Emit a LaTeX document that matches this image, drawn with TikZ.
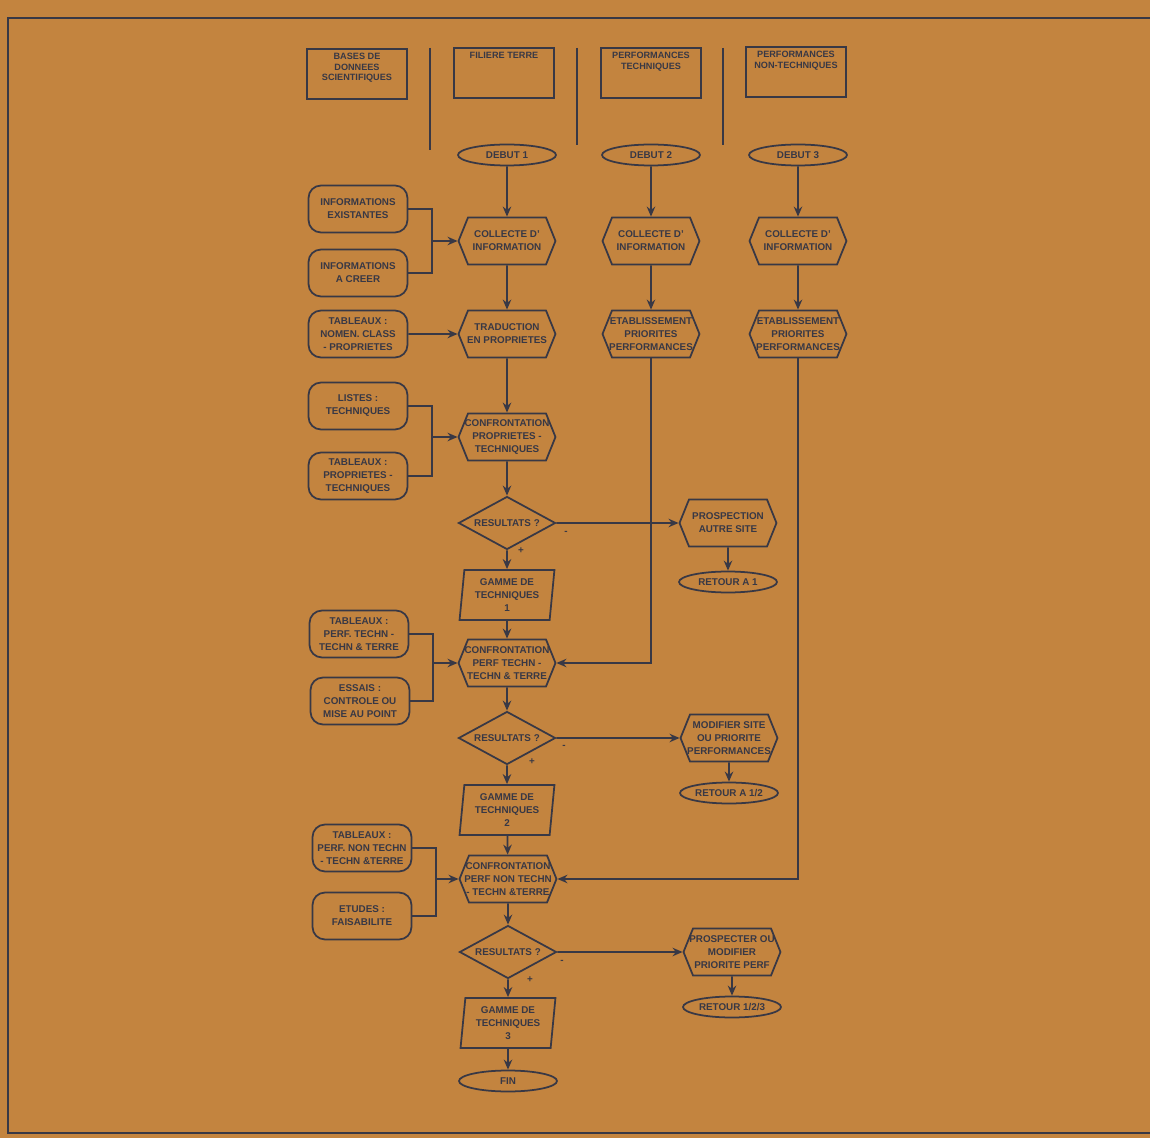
\documentclass[tikz,border=0pt]{standalone}
\usepackage{fontspec}
\setsansfont{Liberation Sans}
\usepackage{tikz}
\usetikzlibrary{positioning,shapes.geometric,shapes.misc,shapes.symbols,arrows.meta}
\definecolor{paper}{HTML}{C3843F}
\definecolor{ink}{HTML}{383845}
\tikzset{
  base/.style={draw=ink, line width=1pt, text=ink, align=center, inner sep=1pt},
  source/.style={base, rounded corners=2.5mm, minimum width=1.98cm, minimum height=0.94cm},
  task/.style={base, signal, signal to=east and west, signal pointer angle=136, inner xsep=-6pt, minimum width=1.94cm, minimum height=0.94cm},
  test/.style={base, diamond, aspect=1.85, inner sep=-2pt, minimum width=1.94cm, minimum height=1.06cm},
  output/.style={base, trapezium, trapezium left angle=84, trapezium right angle=96, trapezium stretches=true, minimum width=1.9cm, minimum height=1cm},
  terminal/.style={base, ellipse, inner sep=0pt, minimum width=1.96cm, minimum height=0.42cm},
  headbox/.style={draw=ink, line width=1pt, minimum width=2cm, minimum height=1cm},
  headtext/.style={text=ink, align=center, inner sep=0pt, font=\sffamily\bfseries\fontsize{5.2}{5.8}\selectfont},
  arrow/.style={-{Stealth[length=2mm, width=1.7mm]}, draw=ink, line width=1pt},
  link/.style={draw=ink, line width=1pt},
  sign/.style={text=ink, inner sep=0pt}
}

\begin{document}
\begin{tikzpicture}[x=0.02cm, y=-0.02cm, font=\sffamily\bfseries\fontsize{5.6}{7.4}\selectfont]
  \useasboundingbox (0,0) rectangle (1150,1138);
  \fill[paper] (0,0) rectangle (1150,1138);
  \draw[link] (1150,18) -- (8,18) -- (8,1133) -- (1150,1133);

  \node[headbox] (hbase) at (357,74) {};
  \node[headbox] (hfil) at (504,73) {};
  \node[headbox] (htech) at (651,73) {};
  \node[headbox] (hnon) at (796,72) {};
  \node[headtext, below=1mm of hbase.north] {BASES DE\\DONNEES\\SCIENTIFIQUES};
  \node[headtext, below=1mm of hfil.north] {FILIERE TERRE};
  \node[headtext, below=1mm of htech.north] {PERFORMANCES\\TECHNIQUES};
  \node[headtext, below=1mm of hnon.north] {PERFORMANCES\\NON-TECHNIQUES};
  \draw[link] (430,48) -- (430,150);
  \draw[link] (577,48) -- (577,145);
  \draw[link] (723,48) -- (723,145);

  \node[terminal] (debut1) at (507,155) {DEBUT 1};
  \node[terminal] (debut2) at (651,155) {DEBUT 2};
  \node[terminal] (debut3) at (798,155) {DEBUT 3};

  \node[task] (coll1) at (507,241) {COLLECTE D'\\INFORMATION};
  \node[task] (coll2) at (651,241) {COLLECTE D'\\INFORMATION};
  \node[task] (coll3) at (798,241) {COLLECTE D'\\INFORMATION};
  \node[task] (trad) at (507,334) {TRADUCTION\\EN PROPRIETES};
  \node[task] (etab2) at (651,334) {ETABLISSEMENT\\PRIORITES\\PERFORMANCES};
  \node[task] (etab3) at (798,334) {ETABLISSEMENT\\PRIORITES\\PERFORMANCES};

  \node[source] (infoex) at (358,209) {INFORMATIONS\\EXISTANTES};
  \node[source] (infocr) at (358,273) {INFORMATIONS\\A CREER};
  \node[source] (tabnom) at (358,334) {TABLEAUX :\\NOMEN. CLASS\\- PROPRIETES};
  \node[source] (listes) at (358,406) {LISTES :\\TECHNIQUES};
  \node[source] (tabprop) at (358,476) {TABLEAUX :\\PROPRIETES -\\TECHNIQUES};
  \node[source] (tabperf) at (359,634) {TABLEAUX :\\PERF. TECHN -\\TECHN \& TERRE};
  \node[source] (essais) at (360,701) {ESSAIS :\\CONTROLE OU\\MISE AU POINT};
  \node[source] (tabnon) at (362,848) {TABLEAUX :\\PERF. NON TECHN\\- TECHN \&TERRE};
  \node[source] (etudes) at (362,916) {ETUDES :\\FAISABILITE};

  \node[task] (conf1) at (507,437) {CONFRONTATION\\PROPRIETES -\\TECHNIQUES};
  \node[test] (res1) at (507,523) {RESULTATS ?};
  \node[task] (prosp) at (728,523) {PROSPECTION\\AUTRE SITE};
  \node[terminal] (ret1) at (728,582) {RETOUR A 1};
  \node[output] (gamme1) at (507,595) {GAMME DE\\TECHNIQUES\\1};

  \node[task] (conf2) at (507,663) {CONFRONTATION\\PERF TECHN -\\TECHN \& TERRE};
  \node[test] (res2) at (507,738) {RESULTATS ?};
  \node[task] (modif) at (729,738) {MODIFIER SITE\\OU PRIORITE\\PERFORMANCES};
  \node[terminal] (ret2) at (729,793) {RETOUR A 1/2};
  \node[output] (gamme2) at (507,810) {GAMME DE\\TECHNIQUES\\2};

  \node[task] (conf3) at (508,879) {CONFRONTATION\\PERF NON TECHN\\- TECHN \&TERRE};
  \node[test] (res3) at (508,952) {RESULTATS ?};
  \node[task] (prospm) at (732,952) {PROSPECTER OU\\MODIFIER\\PRIORITE PERF};
  \node[terminal] (ret3) at (732,1007) {RETOUR 1/2/3};
  \node[output] (gamme3) at (508,1023) {GAMME DE\\TECHNIQUES\\3};
  \node[terminal] (fin) at (508,1081) {FIN};

  \node[sign] (minus1) at (566,533) {-};
  \node[sign] (plus1) at (521,551) {+};
  \node[sign] (minus2) at (564,747) {-};
  \node[sign] (plus2) at (532,762) {+};
  \node[sign] (minus3) at (562,962) {-};
  \node[sign] (plus3) at (530,980) {+};

  \coordinate (join1) at (432,241);
  \coordinate (join2) at (432,437);
  \coordinate (join3) at (433,663);
  \coordinate (join4) at (436,879);

  \draw[arrow] (debut1) -- (coll1);
  \draw[arrow] (debut2) -- (coll2);
  \draw[arrow] (debut3) -- (coll3);
  \draw[arrow] (coll1) -- (trad);
  \draw[arrow] (coll2) -- (etab2);
  \draw[arrow] (coll3) -- (etab3);
  \draw[arrow] (trad) -- (conf1);
  \draw[arrow] (conf1) -- (res1);
  \draw[arrow] (res1) -- (gamme1);
  \draw[arrow] (res1) -- (prosp);
  \draw[arrow] (prosp) -- (ret1);
  \draw[arrow] (gamme1) -- (conf2);
  \draw[arrow] (conf2) -- (res2);
  \draw[arrow] (res2) -- (gamme2);
  \draw[arrow] (res2) -- (modif);
  \draw[arrow] (modif) -- (ret2);
  \draw[arrow] (gamme2) -- (conf3);
  \draw[arrow] (conf3) -- (res3);
  \draw[arrow] (res3) -- (gamme3);
  \draw[arrow] (res3) -- (prospm);
  \draw[arrow] (prospm) -- (ret3);
  \draw[arrow] (gamme3) -- (fin);
  \draw[arrow] (etab2.south) |- (conf2.east);
  \draw[arrow] (etab3.south) |- (conf3.east);

  \draw[link] (infoex.east) -| (join1);
  \draw[link] (infocr.east) -| (join1);
  \draw[arrow] (join1) -- (coll1.west);
  \draw[arrow] (tabnom) -- (trad);
  \draw[link] (listes.east) -| (join2);
  \draw[link] (tabprop.east) -| (join2);
  \draw[arrow] (join2) -- (conf1.west);
  \draw[link] (tabperf.east) -| (join3);
  \draw[link] (essais.east) -| (join3);
  \draw[arrow] (join3) -- (conf2.west);
  \draw[link] (tabnon.east) -| (join4);
  \draw[link] (etudes.east) -| (join4);
  \draw[arrow] (join4) -- (conf3.west);
\end{tikzpicture}
\end{document}
